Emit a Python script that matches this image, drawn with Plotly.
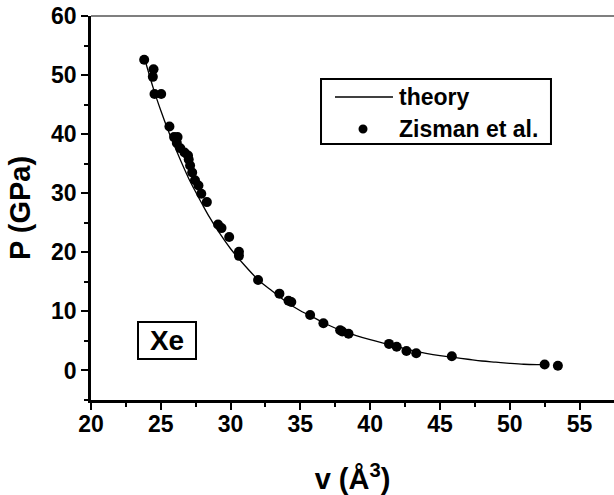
import plotly.graph_objects as go

# Experimental data (Zisman et al.)
v_exp = [23.81, 24.48, 24.43, 24.55, 25.03, 25.62, 25.95, 26.2, 26.15, 26.4,
         26.7, 26.95, 27.0, 27.1, 27.25, 27.45, 27.7, 27.9, 28.3, 29.1,
         29.35, 29.9, 30.6, 30.6, 31.97, 33.5, 34.15, 34.35, 35.7, 36.65,
         37.85, 38.0, 38.45, 41.35, 41.9, 42.6, 43.3, 45.85, 52.5, 53.45]
p_exp = [52.6, 51.0, 49.7, 46.8, 46.8, 41.3, 39.5, 39.5, 38.5, 37.6,
         36.9, 36.4, 35.7, 34.7, 33.5, 32.2, 31.3, 29.9, 28.5, 24.7,
         24.1, 22.6, 20.1, 19.4, 15.3, 13.0, 11.8, 11.6, 9.4, 8.0,
         6.8, 6.6, 6.2, 4.5, 4.0, 3.3, 2.9, 2.4, 1.0, 0.8]

# Theory curve
v_th = [23.9, 24.5, 25.0, 25.5, 26.0, 26.5, 27.0, 27.5, 28.0, 28.5, 29.0,
        30.0, 31.0, 32.0, 33.0, 34.0, 35.0, 36.0, 37.0, 38.0, 39.0, 40.0,
        41.0, 42.0, 43.0, 44.0, 45.0, 46.0, 47.0, 48.0, 49.0, 50.0, 51.0,
        52.0, 52.5]
p_th = [52.3, 47.5, 44.0, 40.8, 37.9, 35.1, 32.5, 30.2, 28.0, 25.9, 24.0,
        20.6, 17.8, 15.3, 13.4, 11.6, 10.1, 8.9, 7.7, 6.7, 5.9, 5.2,
        4.6, 4.0, 3.4, 2.9, 2.5, 2.2, 1.9, 1.6, 1.4, 1.2, 1.05,
        1.0, 1.0]

x_ticks = [20, 25, 30, 35, 40, 45, 50, 55]
y_ticks = [0, 10, 20, 30, 40, 50, 60]
legend_labels = ["theory", "Zisman et al."]

FONT = "Liberation Sans"

fig = go.Figure()
fig.add_trace(go.Scatter(x=v_th, y=p_th, mode="lines", name=legend_labels[0],
                         showlegend=False,
                         line=dict(color="black", width=1.3, shape="spline")))
fig.add_trace(go.Scatter(x=v_exp, y=p_exp, mode="markers", name=legend_labels[1],
                         showlegend=False,
                         marker=dict(color="black", size=10, symbol="circle")))

# hand-drawn legend box (paper coordinates) to match the original's compact box
legend_shapes = [
    dict(type="rect", xref="paper", yref="paper", x0=0.4398, x1=0.8795,
         y0=0.6667, y1=0.8359, line=dict(color="black", width=2),
         fillcolor="white", layer="above"),
    dict(type="line", xref="paper", yref="paper", x0=0.4665, x1=0.5774,
         y0=0.7891, y1=0.7891, line=dict(color="black", width=1.3), layer="above"),
    dict(type="circle", xref="paper", yref="paper", x0=0.5115, x1=0.5287,
         y0=0.6940, y1=0.7174, line=dict(color="black", width=0),
         fillcolor="black", layer="above"),
]
legend_texts = [
    dict(x=0.5851, y=0.7891, xref="paper", yref="paper", text=legend_labels[0],
         xanchor="left", yanchor="middle", showarrow=False,
         font=dict(size=23, family=FONT, weight="bold", color="black")),
    dict(x=0.5851, y=0.7057, xref="paper", yref="paper", text=legend_labels[1],
         xanchor="left", yanchor="middle", showarrow=False,
         font=dict(size=23, family=FONT, weight="bold", color="black")),
]

fig.update_layout(
    width=614, height=495,
    margin=dict(l=91, r=0, t=16, b=95),
    plot_bgcolor="white", paper_bgcolor="white",
    font=dict(family=FONT, color="black"),
    showlegend=False,
    xaxis=dict(range=[20, 57.47], tickvals=x_ticks, ticks="outside",
               ticklen=7, tickwidth=2, tickcolor="black",
               showline=True, linecolor="black", linewidth=2.5,
               showgrid=False, zeroline=False, ticklabelstandoff=-5,
               minor=dict(dtick=2.5, tick0=20, ticks="outside", ticklen=4,
                          tickwidth=2, tickcolor="black", showgrid=False),
               tickfont=dict(size=23, family=FONT, weight="bold"),
               title=dict(text="v (Å<sup>3</sup>)", standoff=33,
                          font=dict(size=29, family=FONT, weight="bold"))),
    yaxis=dict(range=[-5, 60], tickvals=y_ticks, ticks="outside",
               ticklen=7, tickwidth=2, tickcolor="black",
               showline=True, linecolor="black", linewidth=2.5,
               showgrid=False, zeroline=False,
               minor=dict(dtick=5, tick0=0, ticks="outside", ticklen=4,
                          tickwidth=2, tickcolor="black", showgrid=False),
               tickfont=dict(size=23, family=FONT, weight="bold"),
               title=dict(text="P (GPa)", standoff=12,
                          font=dict(size=29, family=FONT, weight="bold"))),
    shapes=[dict(type="line", xref="paper", yref="paper", x0=0, x1=1, y0=1, y1=1,
                 line=dict(color="black", width=1.2))] + legend_shapes,
    annotations=[dict(x=25.48, y=5.07, xref="x", yref="y", text="Xe",
                      showarrow=False, bordercolor="black", borderwidth=2,
                      borderpad=2, bgcolor="white", width=52, height=31,
                      font=dict(size=28, family=FONT, weight="bold", color="black"))]
                + legend_texts,
)

fig.write_html("out.html")
